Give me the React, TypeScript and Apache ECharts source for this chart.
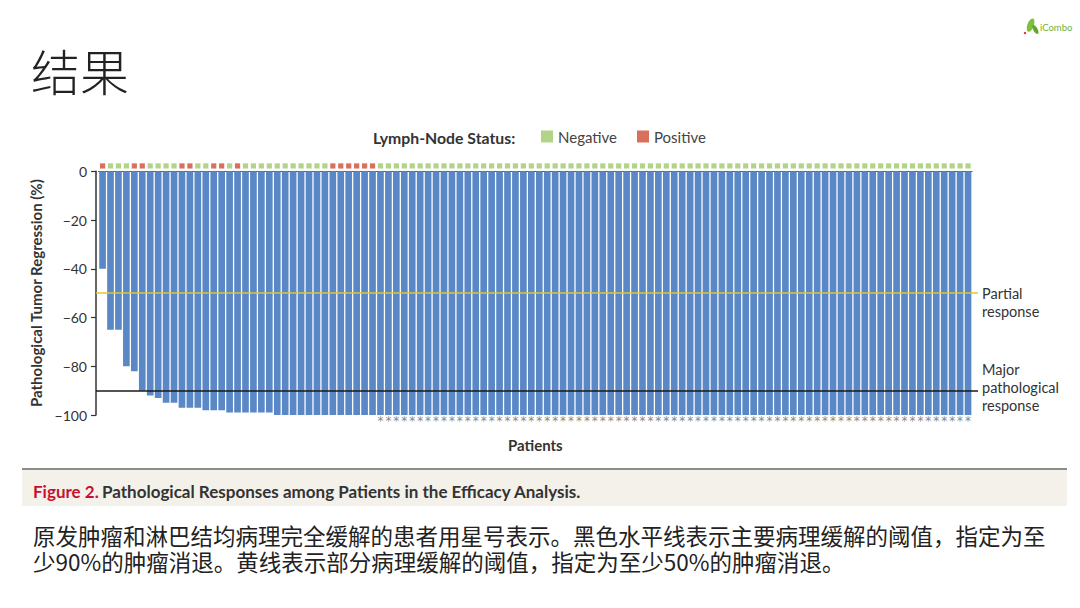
import React, { useEffect, useRef } from "react";
import * as echarts from "echarts";

// Pathological tumor regression (%) per patient, sorted
const regression = [
  -40, -65, -65, -80, -82, -90, -92, -93, -95, -95,
  -97, -97, -97, -98, -98, -98, -99, -99, -99, -99,
  -99, -99, -100, -100, -100, -100, -100, -100, -100, -100,
  -100, -100, -100, -100, -100, -100, -100, -100, -100, -100,
  -100, -100, -100, -100, -100, -100, -100, -100, -100, -100,
  -100, -100, -100, -100, -100, -100, -100, -100, -100, -100,
  -100, -100, -100, -100, -100, -100, -100, -100, -100, -100,
  -100, -100, -100, -100, -100, -100, -100, -100, -100, -100,
  -100, -100, -100, -100, -100, -100, -100, -100, -100, -100,
  -100, -100, -100, -100, -100, -100, -100, -100, -100, -100,
  -100, -100, -100, -100, -100, -100, -100, -100, -100, -100,
];

// Lymph-node status: 1 = positive, 0 = negative
const nodeStatus = [
  1, 0, 0, 0, 1, 1, 0, 0, 0, 0,
  1, 1, 0, 0, 1, 1, 0, 1, 0, 0,
  0, 0, 0, 0, 0, 0, 0, 0, 0, 1,
  1, 1, 1, 1, 1, 0, 0, 0, 0, 0,
  0, 0, 0, 0, 0, 0, 0, 0, 0, 0,
  0, 0, 0, 0, 0, 0, 0, 0, 0, 0,
  0, 0, 0, 0, 0, 0, 0, 0, 0, 0,
  0, 0, 0, 0, 0, 0, 0, 0, 0, 0,
  0, 0, 0, 0, 0, 0, 0, 0, 0, 0,
  0, 0, 0, 0, 0, 0, 0, 0, 0, 0,
  0, 0, 0, 0, 0, 0, 0, 0, 0, 0,
];

// Complete pathological response of primary tumor and nodes (asterisk)
const completeResponse = [
  0, 0, 0, 0, 0, 0, 0, 0, 0, 0,
  0, 0, 0, 0, 0, 0, 0, 0, 0, 0,
  0, 0, 0, 0, 0, 0, 0, 0, 0, 0,
  0, 0, 0, 0, 0, 1, 1, 1, 1, 1,
  1, 1, 1, 1, 1, 1, 1, 1, 1, 1,
  1, 1, 1, 1, 1, 1, 1, 1, 1, 1,
  1, 1, 1, 1, 1, 1, 1, 1, 1, 1,
  1, 1, 1, 1, 1, 1, 1, 1, 1, 1,
  1, 1, 1, 1, 1, 1, 1, 1, 1, 1,
  1, 1, 1, 1, 1, 1, 1, 1, 1, 1,
  1, 1, 1, 1, 1, 1, 1, 1, 1, 1,
];

const thresholdValues = [-50, -90];
const thresholdLabels = ["Partial\nresponse", "Major\npathological\nresponse"];
const thresholdColors = ["#E1C437", "#1a1a1a"];

const patients = regression.map((_, i) => String(i + 1));

const MARKER_Y = 2.2;
const FONT = 'Lato, "Open Sans", sans-serif';
const CJK = '"Noto Sans CJK SC", sans-serif';

export default function App() {
  const ref = useRef<HTMLDivElement>(null);

  useEffect(() => {
    if (!ref.current) return;
    const chart = echarts.init(ref.current, undefined, { renderer: "svg" });

    const graphic: any[] = [
      {
        type: "text",
        left: 31,
        top: 45,
        style: { text: "结果", fontFamily: CJK, fontSize: 49, fontWeight: 300, fill: "#222" },
      },
      {
        type: "text",
        x: 373,
        y: 137,
        style: {
          text: "Lymph-Node Status:",
          fontFamily: FONT,
          fontSize: 15.8,
          fontWeight: "bold",
          fill: "#333",
          verticalAlign: "middle",
        },
      },
      // logo
      {
        type: "group",
        children: [
          { type: "ellipse", shape: { cx: 1031, cy: 25, rx: 3.2, ry: 7 }, rotation: -0.35, originX: 1031, originY: 25, style: { fill: "#7DBE3C" } },
          { type: "ellipse", shape: { cx: 1035, cy: 29, rx: 2.2, ry: 5 }, rotation: 0.5, originX: 1035, originY: 29, style: { fill: "#5FA82E" } },
          { type: "circle", shape: { cx: 1025, cy: 33, r: 1.2 }, style: { fill: "#E03030" } },
          { type: "text", x: 1040, y: 27, style: { text: "iCombo", fontFamily: FONT, fontSize: 9.5, fill: "#6DB33F", verticalAlign: "middle" } },
        ],
      },
      // caption band
      {
        type: "rect",
        shape: { x: 22, y: 470, width: 1045, height: 36 },
        style: { fill: "#F4F1EA" },
      },
      {
        type: "line",
        shape: { x1: 22, y1: 469, x2: 1067, y2: 469 },
        style: { stroke: "#8C8C8C", lineWidth: 2 },
      },
      {
        type: "text",
        x: 33,
        y: 491,
        style: {
          text: "{a|Figure 2.} {b|Pathological Responses among Patients in the Efficacy Analysis.}",
          verticalAlign: "middle",
          rich: {
            a: { fontFamily: FONT, fontSize: 17, fontWeight: "bold", fill: "#C8102E", color: "#C8102E" },
            b: { fontFamily: FONT, fontSize: 17, fontWeight: "bold", fill: "#333", color: "#333" },
          },
        },
      },
      {
        type: "text",
        x: 33,
        y: 535,
        style: {
          text: "原发肿瘤和淋巴结均病理完全缓解的患者用星号表示。黑色水平线表示主要病理缓解的阈值，指定为至",
          fontFamily: CJK,
          fontSize: 22.5,
          lineHeight: 23,
          fill: "#222",
          verticalAlign: "middle",
        },
      },
      {
        type: "text",
        x: 33,
        y: 561,
        style: {
          text: "少90%的肿瘤消退。黄线表示部分病理缓解的阈值，指定为至少50%的肿瘤消退。",
          fontFamily: CJK,
          fontSize: 22.5,
          lineHeight: 23,
          fill: "#222",
          verticalAlign: "middle",
        },
      },
    ];

    const option: any = {
      animation: false,
      backgroundColor: "#ffffff",
      textStyle: { fontFamily: FONT },
      grid: { left: 98.6, right: 108, top: 171.3, bottom: 193, containLabel: false },
      legend: {
        left: 536,
        top: 124,
        icon: "rect",
        itemWidth: 12,
        itemHeight: 12,
        itemGap: 20,
        selectedMode: false,
        textStyle: { fontFamily: FONT, fontSize: 15, color: "#444" },
        data: ["Negative", "Positive"],
      },
      xAxis: {
        type: "category",
        data: patients,
        name: "Patients",
        nameLocation: "middle",
        nameGap: 22,
        nameTextStyle: { fontFamily: FONT, fontSize: 15, fontWeight: "bold", color: "#333" },
        axisLine: { show: true, lineStyle: { color: "#555", width: 1.2 } },
        axisTick: { show: false },
        axisLabel: {
          interval: 0,
          margin: 0,
          fontFamily: '"DejaVu Sans", sans-serif',
          fontSize: 12,
          color: "#888",
          formatter: (_v: string, idx: number) => (completeResponse[idx] ? "*" : ""),
        },
        splitLine: { show: false },
      },
      yAxis: {
        type: "value",
        min: -100,
        max: 0,
        interval: 20,
        offset: 2.6,
        name: "Pathological Tumor Regression (%)",
        nameLocation: "middle",
        nameGap: 51,
        nameTextStyle: { fontFamily: FONT, fontSize: 15, fontWeight: "bold", color: "#333" },
        axisLine: { show: true, lineStyle: { color: "#333", width: 1.5 } },
        axisTick: { show: true, length: 5, lineStyle: { color: "#333", width: 1.2 } },
        axisLabel: {
          fontFamily: FONT,
          fontSize: 14,
          color: "#333",
          margin: 9,
          formatter: (v: number) => (v < 0 ? "\u2212" + Math.abs(v) : String(v)),
        },
        splitLine: { show: false },
      },
      series: [
        {
          type: "bar",
          name: "Regression",
          data: regression,
          barWidth: "84%",
          itemStyle: { color: "#5A87C6" },
          markLine: {
            silent: true,
            symbol: "none",
            label: { show: false },
            data: thresholdValues.map((v, i) => [
              {
                yAxis: v,
                x: 96,
                lineStyle: { color: thresholdColors[i], width: 1.5, type: "solid" },
              },
              { yAxis: v, x: 978 },
            ]),
          },
        },
        {
          type: "scatter",
          name: "Negative",
          data: nodeStatus.map((s) => (s === 0 ? MARKER_Y : "-")),
          symbol: "rect",
          symbolSize: 5.2,
          clip: false,
          itemStyle: { color: "#9DC96A" },
        },
        {
          type: "scatter",
          name: "Positive",
          data: nodeStatus.map((s) => (s === 1 ? MARKER_Y : "-")),
          symbol: "rect",
          symbolSize: 5.2,
          clip: false,
          itemStyle: { color: "#D14B33" },
        },
      ],
      graphic,
    };

    chart.setOption(option);

    // Threshold labels placed at the library's pixel position of each threshold
    const labelEls = thresholdValues.map((v, i) => {
      const py = chart.convertToPixel({ yAxisIndex: 0 }, v) as number;
      const nLines = thresholdLabels[i].split("\n").length;
      const firstLineOffset = i === 0 ? 0 : -(nLines - 1) * 18 + 15;
      return {
        type: "text",
        x: 982,
        y: py - 9 + firstLineOffset,
        style: {
          text: thresholdLabels[i],
          fontFamily: FONT,
          fontSize: 14.5,
          lineHeight: 18,
          fill: "#333",
          verticalAlign: "top",
        },
      };
    });
    chart.setOption({ graphic: graphic.concat(labelEls) });

    return () => chart.dispose();
  }, []);

  return (
    <div
      ref={ref}
      style={{ position: "fixed", left: 0, top: 0, width: 1080, height: 608, background: "#fff" }}
    />
  );
}
